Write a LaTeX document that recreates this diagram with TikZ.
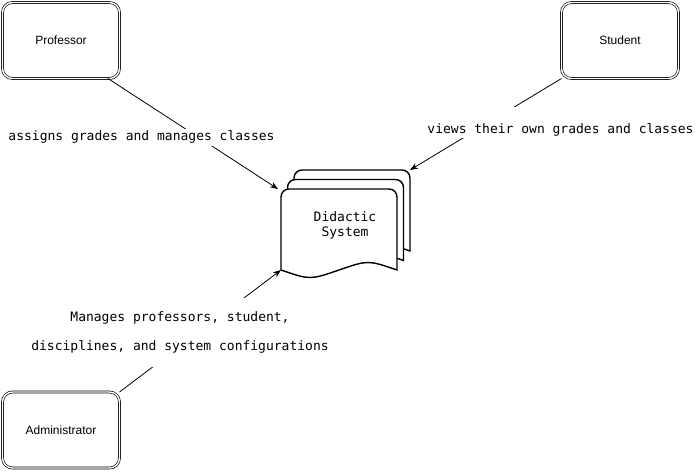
\documentclass[tikz,border=0pt]{standalone}
\usepackage{fontspec}
\setmainfont{Liberation Sans}
\setmonofont{DejaVu Sans Mono}
\usetikzlibrary{positioning, calc, arrows.meta}

\tikzset{
  actor/.style={draw, double, double distance=1.4pt, line width=0.65pt, rounded corners=10pt, minimum width=117pt, minimum height=76pt, inner sep=0pt, outer sep=0pt, font=\fontsize{12}{14}\selectfont},
  page/.style={minimum width=116pt, minimum height=81pt, inner sep=0pt, outer sep=0pt},
  pageline/.style={draw, fill=white, line width=1.4pt},
  flow/.style={line width=0.8pt, -{Stealth[length=8pt,width=6pt]}},
  tag/.style={fill=white, inner xsep=1pt, inner ysep=2pt, font=\ttfamily\fontsize{13}{15}\selectfont},
}

\begin{document}
\begin{tikzpicture}[x=1pt, y=-1pt]
\useasboundingbox (0,0) rectangle (695,471);

% actors
\node[actor] (prof) at (61,40.5) {Professor};
\node[actor, right=442pt of prof] (stud) {Student};
\node[actor, below=313.5pt of prof] (admin) {Administrator};

% stacked documents
\node[page] (front) at (339,229.5) {};
\node[page] (mid) at ([shift={(6.5pt,9.5pt)}]front.center) {};
\node[page] (back) at ([shift={(6.5pt,9.5pt)}]mid.center) {};
\foreach \p in {back,mid,front}
  \draw[pageline] (\p.south west) -- ([yshift=-8pt]\p.north west)
    arc[start angle=180, end angle=90, radius=8pt] -- ([xshift=-8pt]\p.north east)
    arc[start angle=90, end angle=0, radius=8pt] -- (\p.south east)
    .. controls ([xshift=-29pt, yshift=10pt]\p.south east) .. ($(\p.south west)!0.5!(\p.south east)$)
    .. controls ([xshift=29pt, yshift=-10pt]\p.south west) .. cycle;
\node[align=center, font=\ttfamily\fontsize{13}{15}\selectfont] (sysname) at (345,225.5) {Didactic\\System};

% connectors
\draw[flow] (prof.-39) -- ([xshift=-3pt]front.north west);
\draw[flow] (stud.south west) -- (back.north east);
\draw[flow] (admin.north east) -- (front.south west);

% labels
\node[tag, text height=10pt, text depth=3pt, anchor=base] (proftag) at (141.5,140.5) {assigns grades and manages classes};
\node[tag, text height=24pt, text depth=3pt, anchor=base] (studtag) at (560.5,133) {views their own grades and classes};
\node[tag, align=center, inner ysep=14pt, font=\ttfamily\fontsize{13}{29}\selectfont] (admintag) at (180,332.5) {Manages professors, student,\\disciplines, and system configurations};
\end{tikzpicture}
\end{document}
